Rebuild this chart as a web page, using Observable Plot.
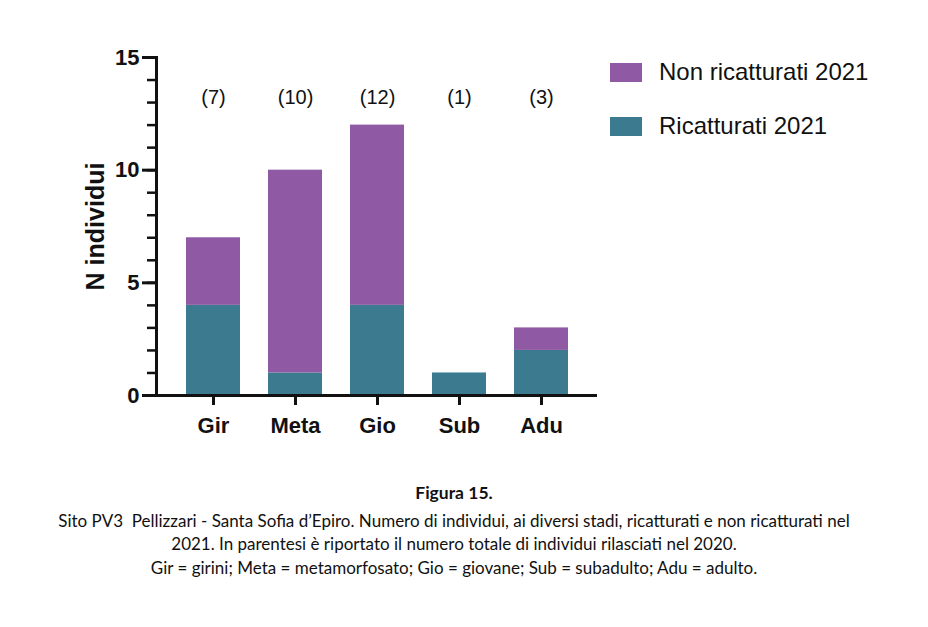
<!DOCTYPE html>
<html><head><meta charset="utf-8">
<script src="https://cdn.jsdelivr.net/npm/d3@7"></script>
<script src="https://cdn.jsdelivr.net/npm/@observablehq/plot@0.6"></script>
<style>
body{margin:0;background:#fff;width:928px;height:627px;position:relative;overflow:hidden}
#chart{position:absolute;left:0;top:0}
#legend{position:absolute;left:610px;top:0;font-family:"Liberation Sans",Arial,sans-serif;font-size:24px;color:#111}
.item{position:absolute;left:0;display:flex;align-items:center;white-space:nowrap;height:20px}
.sw{width:32px;height:19px;margin-right:17px;flex:none}
#caption{position:absolute;top:481px;left:0;width:908px;text-align:center;font-family:Lato,"Open Sans",sans-serif;font-size:17px;line-height:23.5px;color:#111;white-space:pre}
#caption b{display:block;font-weight:bold;font-size:17.5px;margin-bottom:4px}
</style>
</head><body>
<div id="chart"></div>
<div id="legend"></div>
<div id="caption"></div>
<script>
const stages = ["Gir", "Meta", "Gio", "Sub", "Adu"];
const ricatturati = [4, 1, 4, 1, 2];
const nonRicatturati = [3, 9, 8, 0, 1];
const totals2020 = [7, 10, 12, 1, 3];
const seriesNames = ["Ricatturati 2021", "Non ricatturati 2021"];
const seriesColors = ["#3b7a8f", "#8f5aa3"];
const legendOrder = ["Non ricatturati 2021", "Ricatturati 2021"];
const yMajorTicks = [0, 5, 10, 15];
const yMinorTicks = [0, 1, 2, 3, 4, 5, 6, 7, 8, 9, 10, 11, 12, 13, 14, 15];
const yLabel = "N individui";
const captionTitle = "Figura 15.";
const captionLines = [
  "Sito PV3  Pellizzari - Santa Sofia d\u2019Epiro. Numero di individui, ai diversi stadi, ricatturati e non ricatturati nel",
  "2021. In parentesi è riportato il numero totale di individui rilasciati nel 2020.",
  "Gir = girini; Meta = metamorfosato; Gio = giovane; Sub = subadulto; Adu = adulto."
];

const table = [];
stages.forEach((s, i) => table.push({stage: s, series: seriesNames[0], value: ricatturati[i]}));
stages.forEach((s, i) => table.push({stage: s, series: seriesNames[1], value: nonRicatturati[i]}));

const chart = Plot.plot({
  width: 928,
  height: 460,
  marginLeft: 156,
  marginRight: 331,
  marginTop: 57,
  marginBottom: 65,
  style: {fontFamily: '"Liberation Sans", Arial, sans-serif', color: "#111", background: "white"},
  x: {domain: stages, padding: 0.345, label: null},
  y: {domain: [0, 15], label: null},
  color: {domain: seriesNames, range: seriesColors},
  marks: [
    Plot.barY(table, {x: "stage", y: "value", fill: "series"}),
    Plot.axisY({ticks: yMinorTicks, tickSize: 9, tickFormat: () => "", strokeWidth: 2.5, label: null}),
    Plot.axisY({ticks: yMajorTicks, tickSize: 14, tickPadding: 3, fontSize: 22, fontWeight: "bold", strokeWidth: 3, label: null}),
    Plot.axisX({tickSize: 10, tickPadding: 12, fontSize: 22, fontWeight: "bold", strokeWidth: 3, label: null}),
    Plot.ruleY([0], {strokeWidth: 3}),
    Plot.frame({anchor: "left", strokeWidth: 3}),
    Plot.text(stages, {x: d => d, text: (d, i) => `(${totals2020[i]})`, frameAnchor: "top", lineAnchor: "middle", dy: 40, fontSize: 20}),
    Plot.text([yLabel], {frameAnchor: "left", textAnchor: "middle", rotate: -90, dx: -61, fontSize: 25, fontWeight: "bold"})
  ]
});
document.getElementById("chart").append(chart);

const legend = document.getElementById("legend");
const legendTops = [62, 116];
legendOrder.forEach((name, k) => {
  const it = document.createElement("div");
  it.className = "item";
  it.style.top = legendTops[k] + "px";
  const sw = document.createElement("span");
  sw.className = "sw";
  sw.style.background = seriesColors[seriesNames.indexOf(name)];
  const tx = document.createElement("span");
  tx.textContent = name;
  it.append(sw, tx);
  legend.append(it);
});

const cap = document.getElementById("caption");
const b = document.createElement("b");
b.textContent = captionTitle;
cap.append(b);
captionLines.forEach((l, i) => {
  if (i > 0) cap.append(document.createElement("br"));
  cap.append(document.createTextNode(l));
});
</script>
</body></html>
